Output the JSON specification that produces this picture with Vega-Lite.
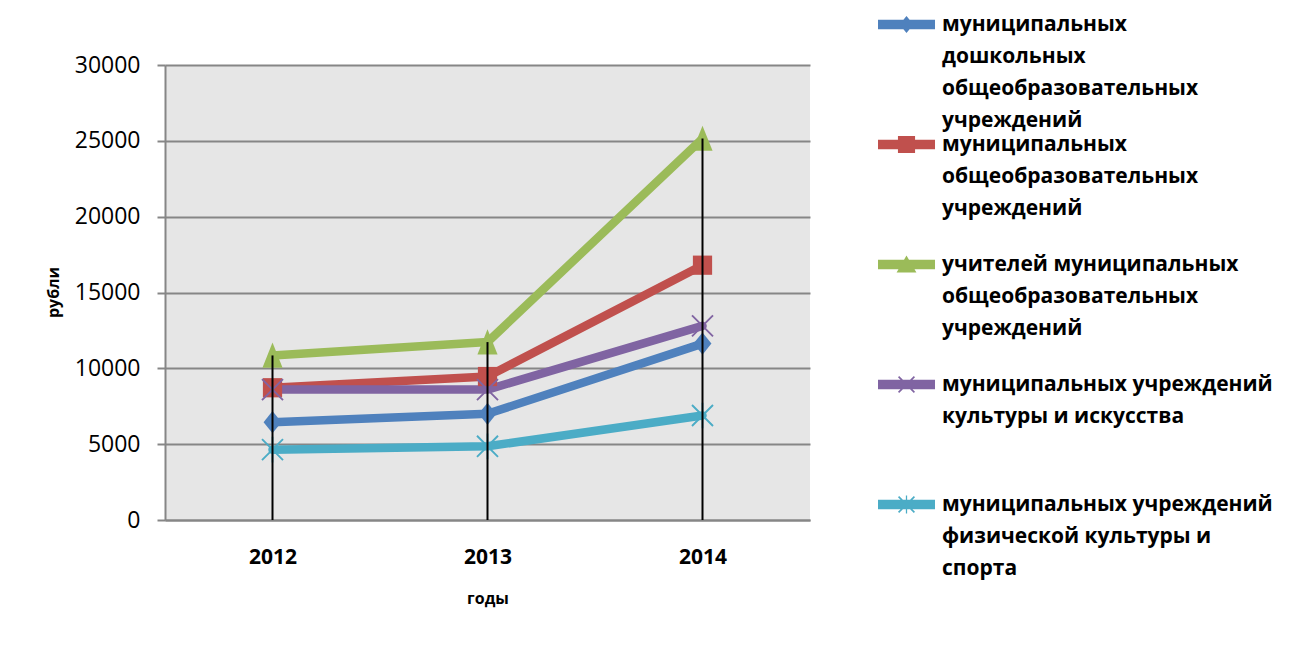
{
  "$schema": "https://vega.github.io/schema/vega-lite/v6.json",
  "autosize": "none",
  "width": 645,
  "height": 455,
  "padding": {"left": 165, "top": 65, "right": 484, "bottom": 133},
  "background": "white",
  "config": {
    "font": "Open Sans",
    "view": {"fill": "#e6e6e6", "stroke": null},
    "style": {"guide-label": {"lineHeight": 32}}
  },
  "data": {
    "values": [
      {"year": "2012", "series": "муниципальных дошкольных общеобразовательных учреждений", "value": 6450},
      {"year": "2013", "series": "муниципальных дошкольных общеобразовательных учреждений", "value": 7000},
      {"year": "2014", "series": "муниципальных дошкольных общеобразовательных учреждений", "value": 11630},
      {"year": "2012", "series": "муниципальных общеобразовательных учреждений", "value": 8720},
      {"year": "2013", "series": "муниципальных общеобразовательных учреждений", "value": 9460},
      {"year": "2014", "series": "муниципальных общеобразовательных учреждений", "value": 16800},
      {"year": "2012", "series": "учителей муниципальных общеобразовательных учреждений", "value": 10850},
      {"year": "2013", "series": "учителей муниципальных общеобразовательных учреждений", "value": 11730},
      {"year": "2014", "series": "учителей муниципальных общеобразовательных учреждений", "value": 25150},
      {"year": "2012", "series": "муниципальных учреждений культуры и искусства", "value": 8600},
      {"year": "2013", "series": "муниципальных учреждений культуры и искусства", "value": 8600},
      {"year": "2014", "series": "муниципальных учреждений культуры и искусства", "value": 12800},
      {"year": "2012", "series": "муниципальных учреждений физической культуры и спорта", "value": 4640},
      {"year": "2013", "series": "муниципальных учреждений физической культуры и спорта", "value": 4860},
      {"year": "2014", "series": "муниципальных учреждений физической культуры и спорта", "value": 6890}
    ]
  },
  "resolve": {"scale": {"color": "independent", "shape": "independent"}, "legend": {"color": "independent", "shape": "independent"}},
  "encoding": {
    "x": {
      "field": "year", "type": "ordinal",
      "scale": {"type": "point", "padding": 0.5},
      "axis": {
        "title": "годы", "labelAngle": 0, "grid": false, "ticks": false,
        "domainColor": "#868686", "domainWidth": 2,
        "labelFontSize": 21, "labelFontWeight": "bold", "labelColor": "#000", "labelPadding": 26,
        "titleFontSize": 16, "titleFontWeight": "bold", "titleColor": "#000",
        "titleY": 78, "titleBaseline": "middle"
      }
    },
    "y": {
      "field": "value", "type": "quantitative",
      "scale": {"domain": [0, 30000], "nice": false},
      "axis": {
        "title": "рубли", "values": [0, 5000, 10000, 15000, 20000, 25000, 30000], "format": "d",
        "domainColor": "#868686", "domainWidth": 2,
        "gridColor": "#868686", "gridWidth": 2,
        "tickColor": "#868686", "tickWidth": 2, "tickSize": 8,
        "labelFontSize": 23, "labelColor": "#000", "labelPadding": 17,
        "titleFontSize": 16, "titleFontWeight": "bold", "titleColor": "#000",
        "titleX": -104, "titleY": 227, "titleAngle": -90, "titleBaseline": "bottom", "titleAlign": "center"
      }
    }
  },
  "layer": [
    {
      "mark": {"type": "line", "strokeWidth": 8.5, "strokeJoin": "round", "strokeCap": "round"},
      "encoding": {
        "color": {
          "field": "series", "type": "nominal", "legend": null,
          "scale": {
            "domain": ["муниципальных дошкольных общеобразовательных учреждений", "муниципальных общеобразовательных учреждений", "учителей муниципальных общеобразовательных учреждений", "муниципальных учреждений культуры и искусства", "муниципальных учреждений физической культуры и спорта"],
            "range": ["#4f81bd", "#c0504d", "#9bbb59", "#8064a2", "#4bacc6"]
          }
        }
      }
    },
    {
      "mark": {"type": "point", "filled": true, "opacity": 1, "size": 500, "strokeWidth": 0},
      "encoding": {
        "color": {
          "field": "series", "type": "nominal", "legend": null,
          "scale": {
            "domain": ["муниципальных дошкольных общеобразовательных учреждений", "муниципальных общеобразовательных учреждений", "учителей муниципальных общеобразовательных учреждений", "муниципальных учреждений культуры и искусства", "муниципальных учреждений физической культуры и спорта"],
            "range": ["#4f81bd", "#c0504d", "#9bbb59", "#8064a2", "#4bacc6"]
          }
        },
        "shape": {
          "field": "series", "type": "nominal", "legend": null,
          "scale": {
            "domain": ["муниципальных дошкольных общеобразовательных учреждений", "муниципальных общеобразовательных учреждений", "учителей муниципальных общеобразовательных учреждений", "муниципальных учреждений культуры и искусства", "муниципальных учреждений физической культуры и спорта"],
            "range": [
              "M0,-1L0.8,0L0,1L-0.8,0Z",
              "M-0.86,-0.86L0.86,-0.86L0.86,0.86L-0.86,0.86Z",
              "M0,-1.15L0.9,1.1L-0.9,1.1Z",
              "M-1,-0.88L-0.88,-1L1,0.88L0.88,1Z M0.88,-1L1,-0.88L-0.88,1L-1,0.88Z",
              "M-1,-0.88L-0.88,-1L1,0.88L0.88,1Z M0.88,-1L1,-0.88L-0.88,1L-1,0.88Z M-0.08,-1.15L0.08,-1.15L0.08,1.15L-0.08,1.15Z"
            ]
          }
        }
      }
    },
    {
      "mark": {"type": "rule", "color": "#000", "strokeWidth": 2},
      "encoding": {
        "y": {"aggregate": "max", "field": "value", "type": "quantitative"},
        "y2": {"datum": 0}
      }
    },
    {
      "mark": {"type": "point", "filled": true, "size": 0, "opacity": 1},
      "encoding": {
        "color": {
          "field": "series", "type": "nominal",
          "scale": {
            "domain": ["муниципальных дошкольных общеобразовательных учреждений", "муниципальных общеобразовательных учреждений", "учителей муниципальных общеобразовательных учреждений", "муниципальных учреждений культуры и искусства", "муниципальных учреждений физической культуры и спорта"],
            "range": ["#4f81bd", "#c0504d", "#9bbb59", "#8064a2", "#4bacc6"]
          },
          "legend": {
            "title": null, "orient": "none", "legendX": 713, "legendY": -51,
            "symbolSize": 441, "symbolOpacity": 1, "symbolStrokeWidth": 0,
            "labelFontSize": 21, "labelFontWeight": "bold", "labelColor": "#000", "labelLimit": 500,
            "labelOffset": 43, "labelBaseline": "middle", "gridAlign": "all", "rowPadding": 2,
            "labelExpr": "datum.label == 'муниципальных дошкольных общеобразовательных учреждений' ? ['муниципальных', 'дошкольных', 'общеобразовательных', 'учреждений'] : datum.label == 'муниципальных общеобразовательных учреждений' ? ['муниципальных', 'общеобразовательных', 'учреждений'] : datum.label == 'учителей муниципальных общеобразовательных учреждений' ? ['учителей муниципальных', 'общеобразовательных', 'учреждений'] : datum.label == 'муниципальных учреждений культуры и искусства' ? ['муниципальных  учреждений', 'культуры  и искусства'] : ['муниципальных  учреждений', 'физической  культуры  и', 'спорта']"
          }
        },
        "shape": {
          "field": "series", "type": "nominal",
          "scale": {
            "domain": ["муниципальных дошкольных общеобразовательных учреждений", "муниципальных общеобразовательных учреждений", "учителей муниципальных общеобразовательных учреждений", "муниципальных учреждений культуры и искусства", "муниципальных учреждений физической культуры и спорта"],
            "range": [
              "M-1,-0.45L4.43,-0.45L4.43,0.45L-1,0.45Z M1.714,-0.81L2.38,0L1.714,0.81L1.05,0Z",
              "M-1,-0.45L4.43,-0.45L4.43,0.45L-1,0.45Z M0.9,-0.81L2.53,-0.81L2.53,0.81L0.9,0.81Z",
              "M-1,-0.45L4.43,-0.45L4.43,0.45L-1,0.45Z M1.714,-0.86L2.66,0.76L0.77,0.76Z",
              "M-1,-0.45L4.43,-0.45L4.43,0.45L-1,0.45Z M0.904,-0.7L1.014,-0.81L2.524,0.7L2.414,0.81Z M2.414,-0.81L2.524,-0.7L1.014,0.81L0.904,0.7Z",
              "M-1,-0.45L4.43,-0.45L4.43,0.45L-1,0.45Z M0.904,-0.7L1.014,-0.81L2.524,0.7L2.414,0.81Z M2.414,-0.81L2.524,-0.7L1.014,0.81L0.904,0.7Z M1.654,-0.86L1.774,-0.86L1.774,0.86L1.654,0.86Z"
            ]
          }
        }
      }
    }
  ]
}
